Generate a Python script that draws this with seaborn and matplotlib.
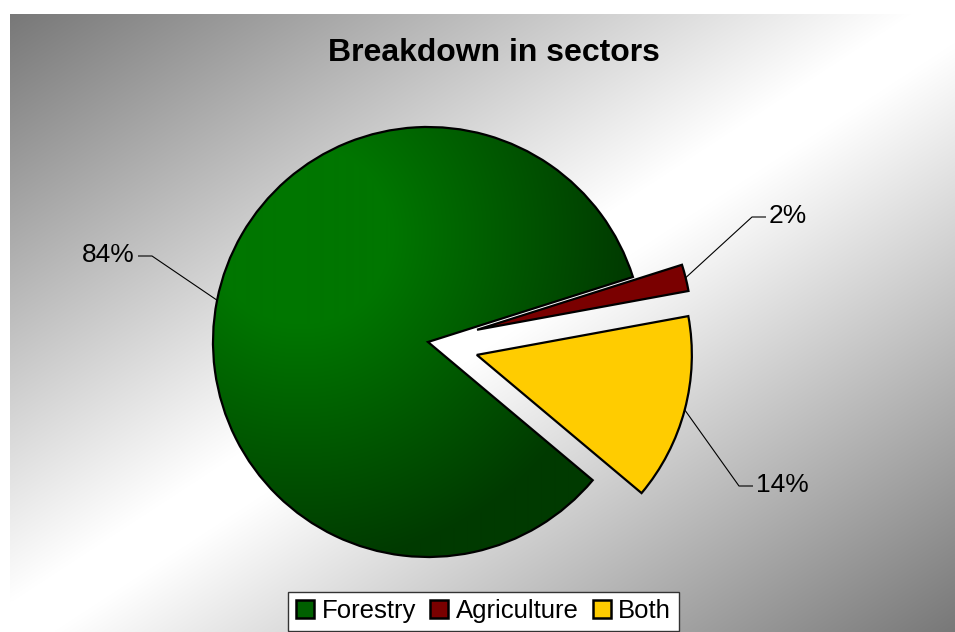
import numpy as np
import matplotlib
matplotlib.use("Agg")
import matplotlib.pyplot as plt
import seaborn as sns
from matplotlib.patches import Patch

# ---- data ----
sectors = ["Forestry", "Agriculture", "Both"]
shares = [84, 2, 14]
share_labels = ["84%", "2%", "14%"]
colors = ["#006400", "#7A0000", "#FFCC00"]
legend_colors = ["#006000", "#7A0000", "#FFCC00"]
title = "Breakdown in sectors"

sns.set_theme(style="white")
plt.rcParams['font.family'] = ['Liberation Sans', 'DejaVu Sans']
plt.rcParams['text.color'] = 'black'

W, H = 955, 632
fig = plt.figure(figsize=(W / 100, H / 100), dpi=100)
fig.patch.set_facecolor("white")
ax = fig.add_axes([0, 0, 1, 1])

# ---- background gradient (chart area) ----
bw, bh = 945, 618
yy, xx = np.mgrid[0:bh, 0:bw]
t = (xx / (bw - 1) + yy / (bh - 1)) / 2
g = 120 + 135 * np.clip(1.05 * (1 - np.abs(2 * t - 1)), 0, 1)
bg = np.dstack([g, g, g]) / 255
ax.imshow(bg, extent=(10, 10 + bw, 0, bh), zorder=0, aspect='auto',
          interpolation='bilinear')

# ---- pie ----
cx, cy, R = 428, H - 342, 215
explode_frac = [0, 0.235, 0.235]
wedges, _ = ax.pie(shares, colors=colors, startangle=-40, counterclock=False,
                   explode=[e * R for e in explode_frac], radius=R,
                   center=(cx, cy),
                   wedgeprops=dict(edgecolor='black', linewidth=1.6),
                   frame=True)
for w in wedges:
    w.set_zorder(2)

# gradient fill for Forestry slice
n = 430
ys, xs = np.mgrid[0:n, 0:n]
X = (cx - R) + xs * (2 * R) / n
Yd = (H - (cy + R)) + ys * (2 * R) / n
d = np.hypot(X - 300, Yd - 235)
G = np.clip(118 - (d - 90) * 0.25, 58, 118)
grad = np.dstack([np.zeros_like(G), G, np.zeros_like(G)]) / 255
wedges[0].set_facecolor('none')
im = ax.imshow(grad, extent=(cx - R, cx + R, cy - R, cy + R), zorder=1.5,
               aspect='auto', interpolation='bilinear')
im.set_clip_path(wedges[0])

ax.set_xlim(0, W)
ax.set_ylim(0, H)
ax.set_aspect('auto')
ax.axis('off')

# ---- labels with leader lines ----
elbows = [(152, 256), (752, 217), (739, 486)]   # layout (pixels, y down)
sides = [-1, 1, 1]
for w, lab, (ex, ey), s in zip(wedges, share_labels, elbows, sides):
    mid = np.deg2rad((w.theta1 + w.theta2) / 2)
    wx, wy = w.center
    sx, sy = wx + w.r * np.cos(mid), wy + w.r * np.sin(mid)
    eyu = H - ey
    ax.plot([sx, ex, ex + s * 14], [sy, eyu, eyu], color='black', lw=0.8,
            zorder=3, solid_capstyle='butt')
    ax.text(ex + s * 17, eyu + 1, lab, ha='right' if s < 0 else 'left',
            va='center', fontsize=19, color='black', zorder=3)

# ---- title ----
fig.text(493.5 / W, 1 - 53 / H, title, ha='center', va='center',
         fontsize=23, fontweight='bold', color='black')

# ---- legend ----
handles = [Patch(facecolor=c, edgecolor='black', linewidth=1.8)
           for c in legend_colors]
leg = fig.legend(handles, sectors, loc='lower center',
                 bbox_to_anchor=(483.5 / W, 1 / H), ncol=3, fontsize=18.5,
                 frameon=True, fancybox=False, edgecolor='#333333',
                 framealpha=1, handlelength=0.7, handleheight=0.7,
                 handletextpad=0.3, columnspacing=0.55, borderpad=0.3,
                 borderaxespad=0, labelcolor='black')
leg.get_frame().set_linewidth(1.0)

fig.savefig("out.png", dpi=100)
